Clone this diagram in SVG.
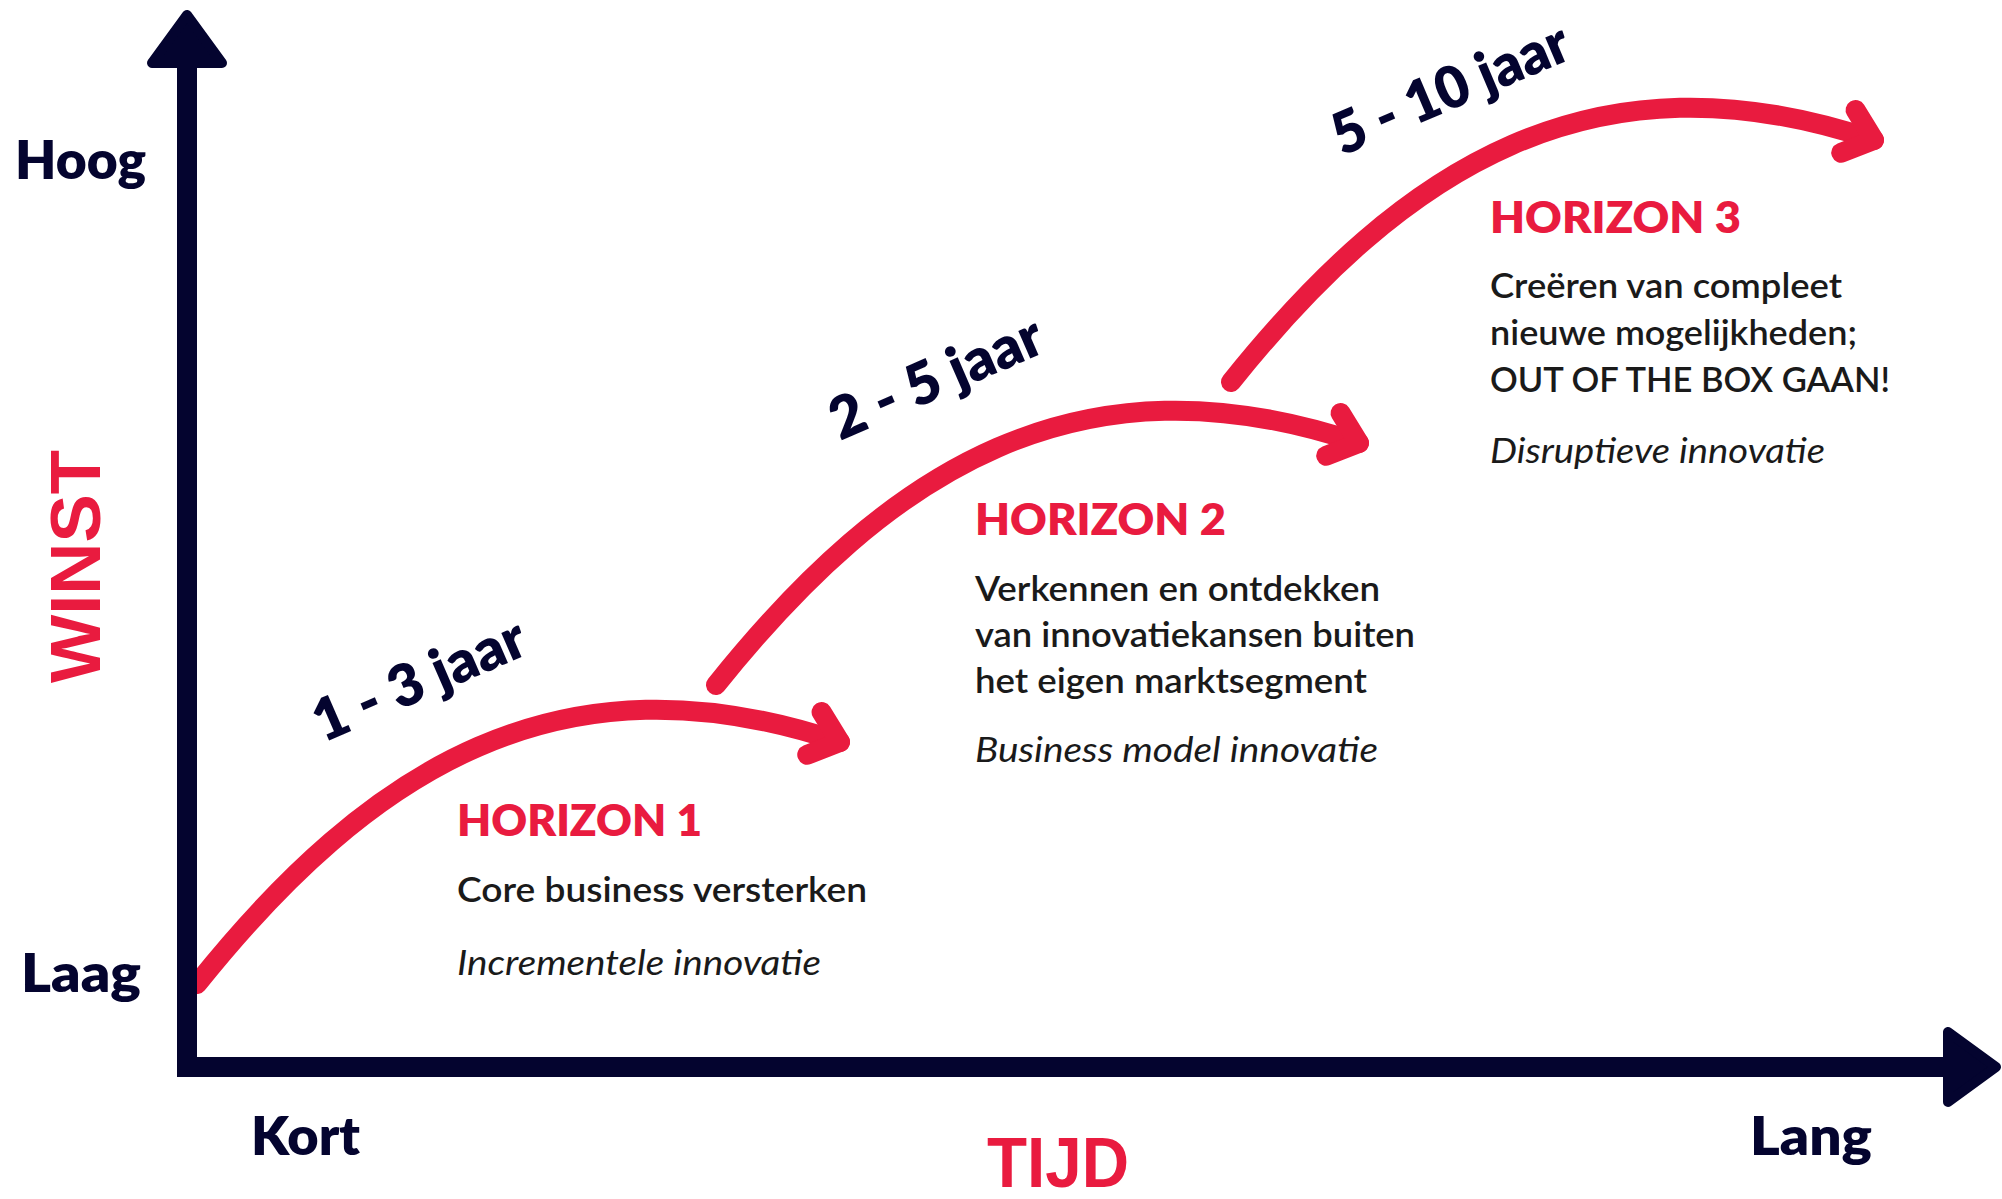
<svg xmlns="http://www.w3.org/2000/svg" width="2002" height="1199" viewBox="0 0 2002 1199">
  <style>
    .axis { fill: #04042F; }
    .axhead { fill: #04042F; stroke: #04042F; stroke-width: 10; stroke-linejoin: round; }
    .arc { fill: none; stroke: #E91B3F; stroke-width: 20; stroke-linecap: round; marker-end: url(#chev); }
    .lbl { font-family: Lato, "Liberation Sans", sans-serif; font-weight: 800; fill: #04042F; font-size: 53px; }
    .yr { font-family: Lato, "Liberation Sans", sans-serif; font-weight: 800; fill: #04042F; font-size: 58px; }
    .axt { font-family: "Liberation Sans", Arial, sans-serif; font-weight: 700; fill: #E91B3F; font-size: 70px; }
    .title { font-family: Lato, "Liberation Sans", sans-serif; font-weight: 800; fill: #E91B3F; font-size: 43px; }
    .body { font-family: Lato, "Liberation Sans", sans-serif; font-weight: 600; fill: #1A1A1A; font-size: 34px; }
    .ital { font-family: Lato, "Liberation Sans", sans-serif; font-style: italic; font-weight: 400; fill: #1A1A1A; font-size: 34px; }
  </style>
  <defs>
    <marker id="chev" markerUnits="userSpaceOnUse" orient="auto" viewBox="-40 -40 80 80" markerWidth="80" markerHeight="80" refX="0" refY="0" overflow="visible">
      <path d="M-27,-22.5 L0,0 L-27,22.5" fill="none" stroke="#E91B3F" stroke-width="20" stroke-linecap="round" stroke-linejoin="round"/>
    </marker>
  </defs>
  <rect width="2002" height="1199" fill="#FFFFFF"/>

  <g id="connectors">
    <path class="arc" d="M197,984 c173,-216 363,-336 643,-242"/>
    <path class="arc" d="M716,685 c173,-216 363,-336 643,-242"/>
    <path class="arc" d="M1231,382 c173,-216 363,-336 643,-242"/>
    <text class="yr" text-anchor="middle" textLength="226" lengthAdjust="spacingAndGlyphs" transform="translate(427,698) rotate(-23.5)">1 - 3 jaar</text>
    <text class="yr" text-anchor="middle" textLength="226" lengthAdjust="spacingAndGlyphs" transform="translate(944,396) rotate(-23.5)">2 - 5 jaar</text>
    <text class="yr" font-size="56" text-anchor="middle" textLength="252" lengthAdjust="spacingAndGlyphs" transform="translate(1458,107) rotate(-23)">5 - 10 jaar</text>
  </g>

  <g id="axes">
    <rect class="axis" x="177" y="55" width="20" height="1022"/>
    <polygon class="axhead" points="187,15 152,63 222,63"/>
    <rect class="axis" x="177" y="1057" width="1780" height="20"/>
    <polygon class="axhead" points="1996,1067 1948,1032 1948,1102"/>
    <text class="lbl" x="15" y="179" textLength="131" lengthAdjust="spacingAndGlyphs">Hoog</text>
    <text class="lbl" x="21" y="992" textLength="120" lengthAdjust="spacingAndGlyphs">Laag</text>
    <text class="lbl" x="251" y="1155" textLength="109" lengthAdjust="spacingAndGlyphs">Kort</text>
    <text class="lbl" x="1750" y="1155" textLength="122" lengthAdjust="spacingAndGlyphs">Lang</text>
    <text class="axt" font-size="72" textLength="233" lengthAdjust="spacingAndGlyphs" transform="translate(100,683) rotate(-90)">WINST</text>
    <text class="axt" x="987" y="1187" textLength="142" lengthAdjust="spacingAndGlyphs">TIJD</text>
  </g>

  <g id="horizon1">
    <text class="title" x="457" y="836" textLength="245" lengthAdjust="spacingAndGlyphs">HORIZON 1</text>
    <text class="body" x="457" y="902" textLength="410" lengthAdjust="spacingAndGlyphs">Core business versterken</text>
    <text class="ital" x="457" y="975" textLength="364" lengthAdjust="spacingAndGlyphs">Incrementele innovatie</text>
  </g>

  <g id="horizon2">
    <text class="title" x="975" y="535" textLength="251" lengthAdjust="spacingAndGlyphs">HORIZON 2</text>
    <text class="body" x="975" y="601" textLength="405" lengthAdjust="spacingAndGlyphs">Verkennen en ontdekken</text>
    <text class="body" x="975" y="647" textLength="440" lengthAdjust="spacingAndGlyphs">van innovatiekansen buiten</text>
    <text class="body" x="975" y="693" textLength="392" lengthAdjust="spacingAndGlyphs">het eigen marktsegment</text>
    <text class="ital" x="975" y="762" textLength="403" lengthAdjust="spacingAndGlyphs">Business model innovatie</text>
  </g>

  <g id="horizon3">
    <text class="title" x="1490" y="233" textLength="251" lengthAdjust="spacingAndGlyphs">HORIZON 3</text>
    <text class="body" x="1490" y="298" textLength="352" lengthAdjust="spacingAndGlyphs">Creëren van compleet</text>
    <text class="body" x="1490" y="345" textLength="367" lengthAdjust="spacingAndGlyphs">nieuwe mogelijkheden;</text>
    <text class="body" x="1490" y="392" textLength="400" lengthAdjust="spacingAndGlyphs">OUT OF THE BOX GAAN!</text>
    <text class="ital" x="1490" y="463" textLength="335" lengthAdjust="spacingAndGlyphs">Disruptieve innovatie</text>
  </g>
</svg>
